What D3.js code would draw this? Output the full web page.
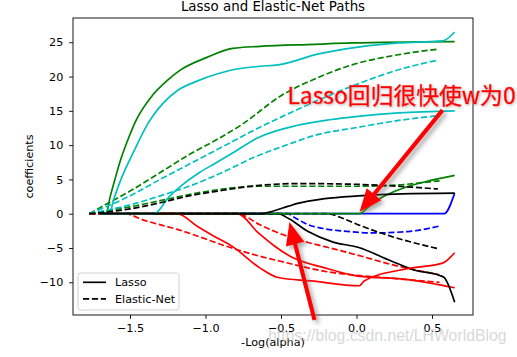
<!DOCTYPE html>
<html><head><meta charset="utf-8">
<script src="https://cdn.jsdelivr.net/npm/d3@7"></script>
<style>body{margin:0;background:#fff}svg{display:block}</style>
</head><body>
<svg id="chart" width="517" height="357"></svg>
<script>
// ---- tick labels ----
const xTicks = [-1.5, -1.0, -0.5, 0.0, 0.5];
const yTicks = [-10, -5, 0, 5, 10, 15, 20, 25];

// ---- Lasso paths (solid), [ -log(alpha), coefficient ] ----
const lassoBlue   = [[-1.70,0],[0.58,0],[0.65,3.0]];
const lassoRed1   = [[-1.70,0],[-0.79,0],[-0.65,-2.8],[-0.55,-4.6],[-0.44,-6.2],[-0.21,-7.9],[0.01,-9.1],[0.34,-9.6],[0.65,-10.8]];
const lassoGreen1 = [[-1.70,0],[-1.66,0],[-1.63,2.6],[-1.60,5.0],[-1.56,8.0],[-1.51,11.0],[-1.46,13.6],[-1.35,17.3],[-1.26,19.3],[-1.17,20.9],[-0.99,22.8],[-0.82,24.1],[-0.64,24.4],[-0.28,24.7],[-0.03,24.9],[0.65,25.1]];
const lassoCyan1  = [[-1.70,0],[-1.64,0],[-1.60,2.6],[-1.56,5.0],[-1.47,9.3],[-1.39,12.8],[-1.35,14.2],[-1.19,17.9],[-1.06,19.3],[-0.92,20.4],[-0.82,21.0],[-0.64,21.5],[-0.52,21.7],[-0.25,23.3],[0.01,24.3],[0.28,24.9],[0.57,25.2],[0.65,26.5]];
const lassoBlack1 = [[-1.70,0],[-0.52,0],[-0.45,-0.7],[-0.32,-2.6],[-0.16,-4.1],[0.01,-4.9],[0.23,-6.9],[0.38,-8.2],[0.55,-9.0],[0.58,-9.3],[0.65,-12.9]];
const lassoRed2   = [[-1.70,0],[-1.19,0],[-1.05,-1.9],[-0.95,-3.2],[-0.82,-4.8],[-0.64,-7.9],[-0.52,-9.3],[-0.30,-9.8],[0.02,-10.5],[0.05,-9.8],[0.34,-8.0],[0.57,-7.2],[0.65,-5.7]];
const lassoGreen2 = [[-1.70,0],[0.02,0],[0.08,1.0],[0.17,2.4],[0.33,3.9],[0.50,4.9],[0.65,5.6]];
const lassoCyan2  = [[-1.70,0],[-1.34,0],[-1.24,2.5],[-1.17,3.9],[-1.04,6.0],[-0.94,7.3],[-0.81,9.0],[-0.66,11.0],[-0.39,12.9],[-0.18,13.7],[0.01,14.2],[0.28,14.7],[0.65,15.0]];
const lassoBlack2 = [[-1.70,0],[-0.63,0],[-0.55,0.4],[-0.45,1.1],[-0.39,1.5],[-0.21,2.2],[0.01,2.6],[0.30,2.9],[0.65,3.0]];

// ---- Elastic-Net paths (dashed) ----
const enetBlue   = [[-1.77,0],[-0.46,0],[-0.40,-0.7],[-0.32,-1.6],[-0.21,-2.2],[-0.10,-2.5],[0.12,-2.8],[0.34,-2.6],[0.55,-1.8]];
const enetRed1   = [[-1.77,0],[-0.79,0],[-0.64,-1.6],[-0.54,-2.6],[-0.32,-4.2],[-0.21,-4.8],[0.0,-6.0],[0.23,-7.4],[0.55,-8.9]];
const enetGreen1 = [[-1.77,0],[-1.64,1.6],[-1.50,3.3],[-1.30,6.0],[-1.11,8.6],[-0.91,11.0],[-0.76,13.0],[-0.50,17.2],[-0.25,19.9],[-0.03,21.7],[0.28,23.2],[0.54,24.0]];
const enetCyan1  = [[-1.77,0],[-1.50,2.6],[-1.30,5.0],[-1.11,7.2],[-0.91,9.5],[-0.64,12.6],[-0.43,14.8],[-0.03,18.6],[0.28,21.0],[0.54,22.4]];
const enetBlack1 = [[-1.77,0],[-0.19,0],[-0.10,-0.6],[0.01,-1.6],[0.23,-3.3],[0.54,-5.1]];
const enetRed2   = [[-1.77,0],[-1.54,0],[-1.40,-1.0],[-1.17,-2.4],[-0.84,-4.9],[-0.64,-6.2],[-0.51,-6.9],[-0.21,-8.4],[0.23,-9.4],[0.55,-10.0]];
const enetGreen2 = [[-1.77,0],[-1.50,1.0],[-1.30,1.9],[-1.11,2.8],[-0.92,3.5],[-0.66,4.0],[-0.38,4.0],[-0.03,4.0],[0.28,4.2],[0.42,4.5],[0.55,4.8]];
const enetCyan2  = [[-1.77,0],[-1.50,1.3],[-1.30,2.6],[-1.11,4.0],[-0.94,5.5],[-0.66,8.4],[-0.44,10.2],[-0.28,11.4],[0.01,12.6],[0.28,13.6],[0.54,14.3]];
const enetBlack2 = [[-1.77,0],[-1.50,0.7],[-1.30,1.6],[-1.11,2.6],[-0.92,3.3],[-0.66,4.1],[-0.38,4.4],[-0.03,4.3],[0.28,4.0],[0.54,3.6]];

const seriesColors = ["#0000ff","#ff0000","#008000","#00bfbf","#000000","#ff0000","#008000","#00bfbf","#000000"];
const lassoSeries = [lassoBlue, lassoRed1, lassoGreen1, lassoCyan1, lassoBlack1, lassoRed2, lassoGreen2, lassoCyan2, lassoBlack2];
const enetSeries  = [enetBlue, enetRed1, enetGreen1, enetCyan1, enetBlack1, enetRed2, enetGreen2, enetCyan2, enetBlack2];
const legendLabels = ["Lasso", "Elastic-Net"];

// annotation anchors (data coords)
const noteText = "Lasso回归很快使w为0";
const notePos = [-0.457, 16.0];
const arrows = [ {from:[0.57,15.1], to:[0.02,0.25]}, {from:[-0.278,-15.5], to:[-0.444,-1.2]} ];

// ---- layout ----
const L = 73, R = 473, T = 18, B = 315;
const svg = d3.select("#chart");
const x = d3.scaleLinear().domain([-1.8775, 0.7715]).range([L, R]);
const y = d3.scaleLinear().domain([-14.77, 28.54]).range([B, T]);
const font = "DejaVu Sans, sans-serif";
const lw = 1.68;
const dash = "6.2,2.7";
const fmt = v => (v < 0 ? "\u2212" : "") + Math.abs(v).toFixed(1);
const fmtI = v => (v < 0 ? "\u2212" : "") + Math.abs(v);

const defs = svg.append("defs");
defs.append("clipPath").attr("id","clip").append("rect").attr("x",L).attr("y",T).attr("width",R-L).attr("height",B-T);
const sh = defs.append("filter").attr("id","shadow").attr("x","-50%").attr("y","-50%").attr("width","200%").attr("height","200%");
sh.append("feDropShadow").attr("dx",3).attr("dy",3).attr("stdDeviation",2.2).attr("flood-color","#666").attr("flood-opacity",0.55);
const gl = defs.append("filter").attr("id","glow").attr("x","-20%").attr("y","-40%").attr("width","140%").attr("height","180%");
gl.append("feDropShadow").attr("dx",1).attr("dy",1).attr("stdDeviation",1.6).attr("flood-color","#999").attr("flood-opacity",0.7);

// lines
const line = d3.line().x(d => x(d[0])).y(d => y(d[1])).curve(d3.curveMonotoneX);
const plot = svg.append("g").attr("clip-path","url(#clip)");
lassoSeries.forEach((s, i) => {
  plot.append("path").attr("d", line(s)).attr("fill","none").attr("stroke", seriesColors[i]).attr("stroke-width", lw);
  plot.append("path").attr("d", line(enetSeries[i])).attr("fill","none").attr("stroke", seriesColors[i]).attr("stroke-width", lw).attr("stroke-dasharray", dash);
});

// axes
const xAxis = svg.append("g").attr("transform", `translate(0,${B})`)
  .call(d3.axisBottom(x).tickValues(xTicks).tickFormat(fmt).tickSize(3.9).tickPadding(5.3));
const yAxis = svg.append("g").attr("transform", `translate(${L},0)`)
  .call(d3.axisLeft(y).tickValues(yTicks).tickFormat(fmtI).tickSize(3.9).tickPadding(5.8));
[xAxis, yAxis].forEach(a => {
  a.select(".domain").remove();
  a.selectAll("line").attr("stroke","#000").attr("stroke-width",0.9);
  a.selectAll("text").attr("font-family", font).attr("font-size", 11.2).attr("fill","#000");
});
svg.append("rect").attr("x",L).attr("y",T).attr("width",R-L).attr("height",B-T)
  .attr("fill","none").attr("stroke","#000").attr("stroke-width",0.9);

// titles
svg.append("text").attr("x",(L+R)/2).attr("y",11).attr("text-anchor","middle")
  .attr("font-family",font).attr("font-size",13.4).text("Lasso and Elastic-Net Paths");
svg.append("text").attr("x",(L+R)/2).attr("y",346).attr("text-anchor","middle")
  .attr("font-family",font).attr("font-size",11.2).text("-Log(alpha)");
svg.append("text").attr("transform",`translate(33,${(T+B)/2}) rotate(-90)`).attr("text-anchor","middle")
  .attr("font-family",font).attr("font-size",11.2).text("coefficients");

// legend
const lg = svg.append("g");
lg.append("rect").attr("x",78).attr("y",273).attr("width",101).attr("height",37).attr("rx",2.5)
  .attr("fill","#fff").attr("fill-opacity",0.8).attr("stroke","#ccc").attr("stroke-width",0.9);
legendLabels.forEach((lab, i) => {
  const yy = 282.3 + i * 16.6;
  lg.append("line").attr("x1",83).attr("x2",106).attr("y1",yy).attr("y2",yy)
    .attr("stroke","#000").attr("stroke-width",lw).attr("stroke-dasharray", i ? dash : null);
  lg.append("text").attr("x",115).attr("y",yy+4).attr("font-family",font).attr("font-size",11.2).text(lab);
});

// annotation arrows
arrows.forEach(a => {
  const x0 = x(a.from[0]), y0 = y(a.from[1]), x1 = x(a.to[0]), y1 = y(a.to[1]);
  const dx = x1 - x0, dy = y1 - y0, len = Math.hypot(dx, dy);
  const ux = dx/len, uy = dy/len, px = -uy, py = ux;
  const hl = 23, hw = 9.5;
  const bx = x1 - ux*hl, by = y1 - uy*hl;
  const g = svg.append("g").attr("filter","url(#shadow)");
  g.append("line").attr("x1",x0).attr("y1",y0).attr("x2",bx+ux*2).attr("y2",by+uy*2)
    .attr("stroke","#ff0000").attr("stroke-width",4.2);
  g.append("path").attr("d",`M${x1},${y1}L${bx+px*hw},${by+py*hw}L${bx-px*hw},${by-py*hw}Z`).attr("fill","#ff0000");
});

// annotation text
svg.append("text").attr("x",x(notePos[0])).attr("y",y(notePos[1]))
  .attr("font-family","Noto Sans CJK SC, sans-serif").attr("font-size",22.8)
  .attr("fill","#ff0000").attr("stroke","#ff0000").attr("stroke-width",0.5)
  .attr("filter","url(#glow)").text(noteText);

// watermark
svg.append("text").attr("x",268).attr("y",341).attr("font-family","Liberation Sans, Arial, sans-serif")
  .attr("font-size",15.8).attr("fill","#bdbdbd").attr("fill-opacity",0.6).text("https://blog.csdn.net/LHWorldBlog");
</script>
</body></html>
